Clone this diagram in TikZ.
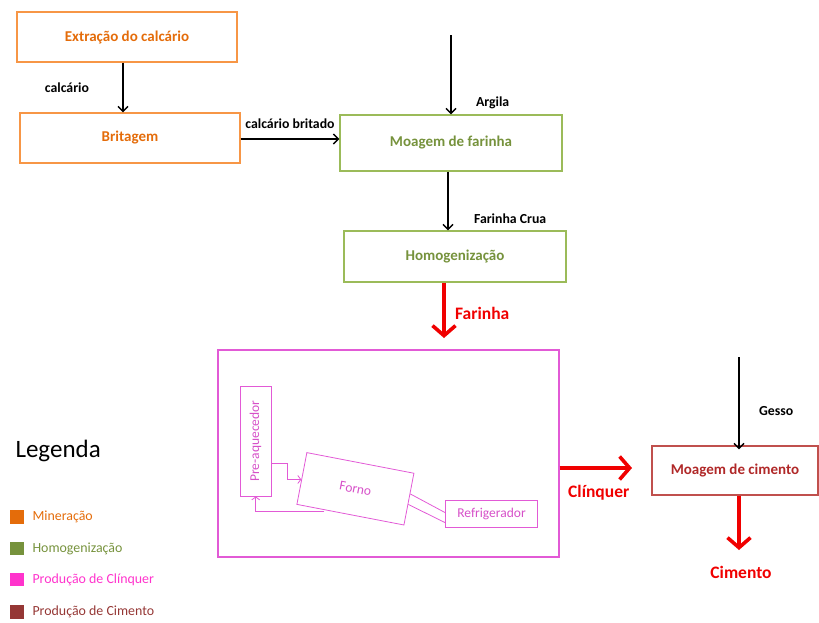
\documentclass[tikz,border=0pt]{standalone}
\usepackage{fontspec}
\setmainfont{Carlito}
\usetikzlibrary{arrows.meta,calc}

\definecolor{minBorder}{RGB}{247,150,70}
\definecolor{minText}{RGB}{228,108,10}
\definecolor{homBorder}{RGB}{155,187,89}
\definecolor{homText}{RGB}{118,146,60}
\definecolor{cliBorder}{RGB}{226,90,214}
\definecolor{cliText}{RGB}{214,80,200}
\definecolor{cimBorder}{RGB}{192,80,77}
\definecolor{cimText}{RGB}{176,40,40}
\definecolor{flowRed}{RGB}{240,0,0}
\definecolor{legMin}{RGB}{228,108,10}
\definecolor{legHom}{RGB}{118,146,60}
\definecolor{legCli}{RGB}{255,51,204}
\definecolor{legCim}{RGB}{149,55,53}

\tikzset{
  stagebox/.style={draw, line width=1.3pt, rectangle, inner sep=0pt,
    font=\fontsize{15}{17}\selectfont\bfseries},
  minbox/.style={stagebox, draw=minBorder, text=minText},
  hombox/.style={stagebox, draw=homBorder, text=homText},
  cimbox/.style={stagebox, draw=cimBorder, text=cimText},
  kilnpart/.style={draw=cliBorder, line width=0.8pt, rectangle, inner sep=0pt,
    text=cliText, font=\fontsize{13.5}{15}\selectfont},
  flow/.style={line width=1.4pt, -{Straight Barb[length=5pt,width=10pt,line width=1.4pt]}},
  redflow/.style={draw=flowRed, line width=3.6pt, -{Straight Barb[length=10pt,width=23pt,line width=3.6pt]}},
  thinflow/.style={draw=cliBorder, line width=0.8pt, -{Straight Barb[length=3pt,width=8pt]}},
  flowlabel/.style={font=\fontsize{13.8}{15}\selectfont\bfseries, text=black},
  redlabel/.style={font=\fontsize{17.5}{19}\selectfont\bfseries, text=flowRed},
  legsq/.style={minimum size=13.5pt, inner sep=0pt},
  legtext/.style={anchor=west, font=\fontsize{13.9}{15}\selectfont}
}

\begin{document}
\begin{tikzpicture}[x=1pt,y=-1pt]
\useasboundingbox (0,0) rectangle (819,622);

% mining and crushing
\node[minbox, minimum width=220pt, minimum height=50pt] (ext) at (127,37) {Extração do calcário};
\node[minbox, minimum width=220pt, minimum height=50pt] (brit) at (130,138) {Britagem};

% raw meal grinding and blending
\node[hombox, minimum width=222pt, minimum height=56pt] (moag) at (451,143) {Moagem de farinha};
\node[hombox, minimum width=222pt, minimum height=51pt] (homog) at (455,256.5) {Homogenização};

% clinker production
\node[draw=cliBorder, line width=1.3pt, minimum width=341pt, minimum height=207pt] (clink) at (388.5,453.5) {};
\node[kilnpart, minimum width=31pt, minimum height=110pt] (pre) at (255.5,441)
  {\rotatebox{90}{Pre-aquecedor}};
\node[kilnpart, minimum width=109pt, minimum height=52.7pt, rotate=-10.9] (forno) at (355.4,488.8) {Forno};
\node[kilnpart, minimum width=91.6pt, minimum height=27.3pt] (refr) at (491.5,513.7) {Refrigerador};

% cement grinding
\node[cimbox, minimum width=166pt, minimum height=49pt] (cim) at (735,470.5) {Moagem de cimento};

% free ends of the feed arrows
\coordinate (argTop) at (451,35);
\coordinate (gesTop) at (739,357);
\coordinate (farEnd) at (444,338);
\coordinate (cliEnd) at (632,468);
\coordinate (cimEnd) at (739,550);
\coordinate (britRow) at (0,139);

% black material flows
\draw[flow] ([xshift=-4pt]ext.south) -- ([xshift=-4pt]ext.south |- brit.north)
  node[flowlabel, pos=0.5, anchor=east, xshift=-30pt] {calcário};
\draw[flow] (brit.east |- britRow) -- (moag.west |- britRow)
  node[flowlabel, pos=0.5, above=6pt] {calcário britado};
\draw[flow] (argTop) -- (argTop |- moag.north)
  node[flowlabel, pos=0.85, anchor=west, xshift=21pt] {Argila};
\draw[flow] ([xshift=-3pt]moag.south) -- ([xshift=-3pt]moag.south |- homog.north)
  node[flowlabel, pos=0.8, anchor=west, xshift=22pt] {Farinha Crua};
\draw[flow] (gesTop) -- ([yshift=-4pt]gesTop |- cim.north)
  node[flowlabel, pos=0.59, anchor=west, xshift=16pt] {Gesso};

% main product flows
\draw[redflow] ([xshift=-11pt]homog.south) -- (farEnd)
  node[redlabel, pos=0.55, anchor=west, xshift=6pt] {Farinha};
\draw[redflow] (clink.east |- cliEnd) -- (cliEnd)
  node[redlabel, pos=0.54, below=12pt] {Clínquer};
\draw[redflow] (cim.south -| cimEnd) -- (cimEnd);
\node[redlabel] (cimLabel) at (741,572) {Cimento};

% kiln internals
\coordinate (preOut) at (287.3,463.3);
\coordinate (fornoIn) at ($(forno.north west)!0.52!(forno.south west)$);
\draw[thinflow] (pre.east |- preOut) -- (preOut) |- (fornoIn);
\coordinate (fornoOut) at ($(forno.south west)!0.26!(forno.south east)$);
\coordinate (retCorner) at (255.7,511.7);
\draw[thinflow] (fornoOut |- retCorner) -- (retCorner) -- (retCorner |- pre.south);
\coordinate (fornoA) at ($(forno.north east)!0.4!(forno.south east)$);
\coordinate (fornoB) at ($(forno.north east)!0.6!(forno.south east)$);
\draw[draw=cliBorder, line width=0.8pt] (fornoA) -- ([yshift=1pt]refr.west);
\draw[draw=cliBorder, line width=0.8pt] (fornoB) -- ([yshift=-9pt]refr.west);

% legend
\node[font=\fontsize{25}{28}\selectfont, anchor=west] (legTitle) at (12,451) {Legenda};
\node[legsq, fill=legMin] (sq1) at (17,517) {};
\node[legsq, fill=legHom] (sq2) at (17,548.5) {};
\node[legsq, fill=legCli] (sq3) at (17,579.7) {};
\node[legsq, fill=legCim] (sq4) at (17,612) {};
\node[legtext, text=legMin] (lt1) at (29,517) {Mineração};
\node[legtext, text=legHom] (lt2) at (29,548.5) {Homogenização};
\node[legtext, text=legCli] (lt3) at (29,579.7) {Produção de Clínquer};
\node[legtext, text=legCim] (lt4) at (29,612) {Produção de Cimento};
\end{tikzpicture}
\end{document}
